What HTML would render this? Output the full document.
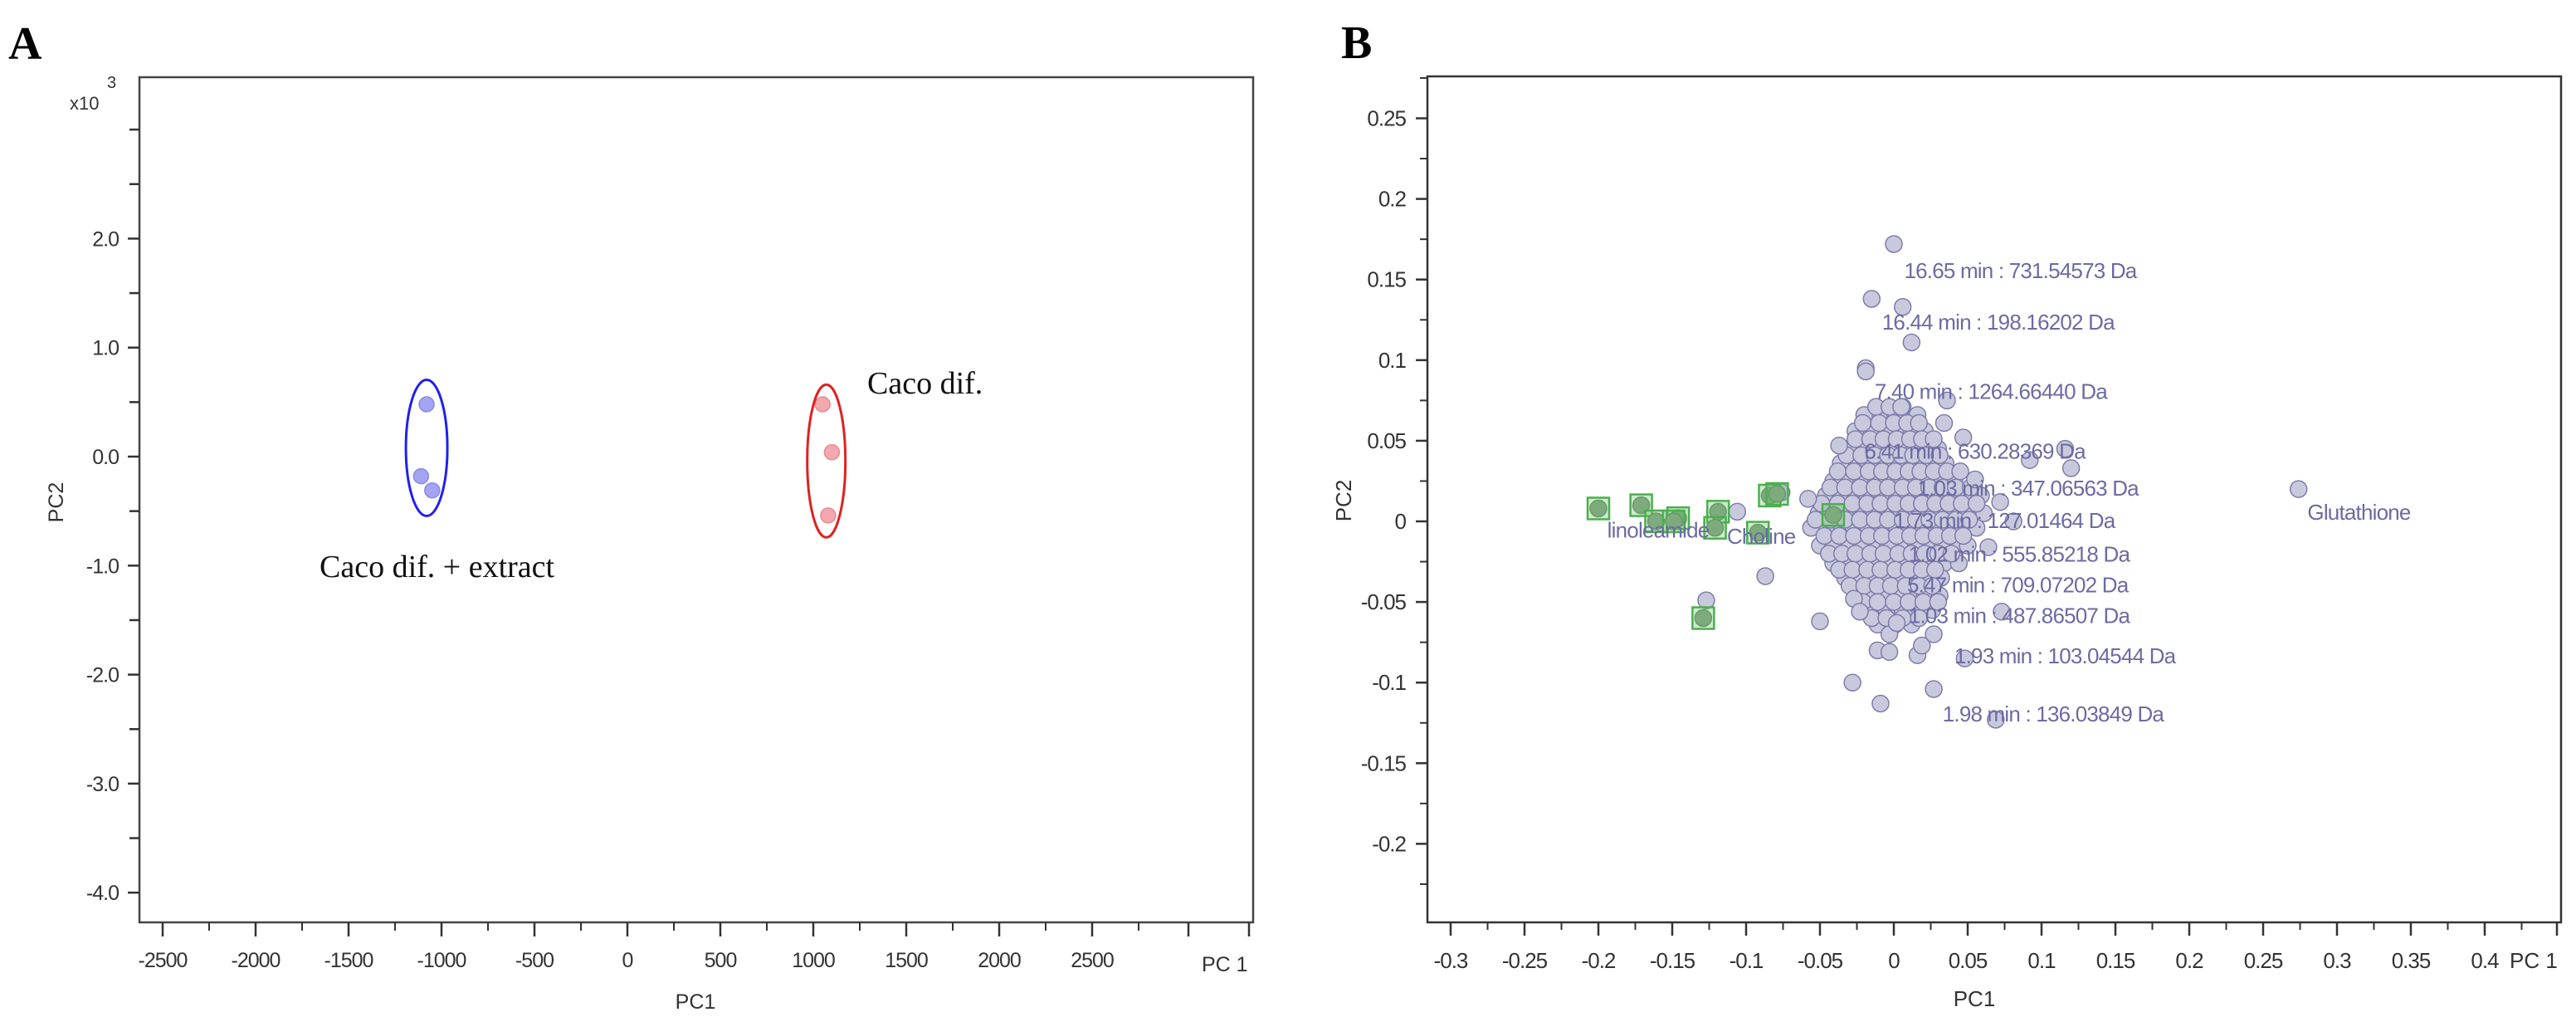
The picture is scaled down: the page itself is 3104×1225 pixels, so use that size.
<!DOCTYPE html>
<html><head><meta charset="utf-8"><style>
html,body{margin:0;padding:0;background:#fff;}
svg{display:block;}
</style></head><body>
<svg id="fig" width="3104" height="1225" xmlns="http://www.w3.org/2000/svg">
<rect width="3104" height="1225" fill="#fff"/>
<g id="pa"></g>
<g id="pb"></g>
</svg>
<script>
// ---------- Panel A data ----------
const aXTicks = [-2500,-2000,-1500,-1000,-500,0,500,1000,1500,2000,2500];
const aYTicks = [2.0,1.0,0.0,-1.0,-2.0,-3.0,-4.0];
const aYTickLabels = ["2.0","1.0","0.0","-1.0","-2.0","-3.0","-4.0"];
const aBlueX = [-1080,-1110,-1050];
const aBlueY = [0.48,-0.18,-0.31];
const aRedX = [1050,1100,1080];
const aRedY = [0.48,0.04,-0.54];

// ---------- Panel B data ----------
const bXTicks = [-0.3,-0.25,-0.2,-0.15,-0.1,-0.05,0,0.05,0.1,0.15,0.2,0.25,0.3,0.35,0.4];
const bXTickLabels = ["-0.3","-0.25","-0.2","-0.15","-0.1","-0.05","0","0.05","0.1","0.15","0.2","0.25","0.3","0.35","0.4"];
const bYTicks = [0.25,0.2,0.15,0.1,0.05,0,-0.05,-0.1,-0.15,-0.2];
const bYTickLabels = ["0.25","0.2","0.15","0.1","0.05","0","-0.05","-0.1","-0.15","-0.2"];
const bOutX = [0,-0.015,0.006,0.012,-0.019,-0.019,0.036,0.005,0.034,0.047,-0.037,0.092,0.12,0.116,0.274,0.055,0.072,0.081,0.064,-0.087,-0.05,-0.127,-0.106,-0.076,-0.058,-0.028,-0.009,0.027,0.069,0.048,-0.011,-0.003,0.016,0.019,0.027,0.073,-0.003,0.002,-0.027,-0.023];
const bOutY = [0.172,0.138,0.133,0.111,0.095,0.093,0.075,0.071,0.061,0.052,0.047,0.038,0.033,0.045,0.020,0.026,0.012,0,-0.016,-0.034,-0.062,-0.049,0.006,0.018,0.014,-0.1,-0.113,-0.104,-0.123,-0.085,-0.08,-0.081,-0.083,-0.077,-0.07,-0.056,-0.07,-0.063,-0.048,-0.056];
const bRowY = [0.066,0.056,0.045,0.036,0.025,0.016,0.005,-0.004,-0.015,-0.026,-0.035,-0.046,-0.055,-0.064];
const bRowX = [
 [-0.02,-0.009,0.001,0.008,0.016],
 [-0.026,-0.015,-0.004,0.005,0.012,0.021],
 [-0.031,-0.02,-0.011,-0.003,0.007,0.014,0.023,0.03],
 [-0.036,-0.025,-0.017,-0.008,0.001,0.009,0.018,0.026,0.035],
 [-0.041,-0.03,-0.022,-0.012,-0.004,0.006,0.013,0.023,0.031,0.041],
 [-0.046,-0.036,-0.026,-0.018,-0.008,0.002,0.01,0.02,0.028,0.037,0.048,0.059],
 [-0.051,-0.04,-0.032,-0.022,-0.013,-0.003,0.005,0.015,0.023,0.033,0.041,0.051,0.061],
 [-0.056,-0.045,-0.035,-0.027,-0.017,-0.008,0.002,0.01,0.02,0.028,0.038,0.046,0.056],
 [-0.05,-0.041,-0.03,-0.022,-0.012,-0.004,0.007,0.015,0.025,0.033,0.043,0.05],
 [-0.041,-0.03,-0.021,-0.011,-0.002,0.008,0.016,0.026,0.034,0.044],
 [-0.033,-0.022,-0.014,-0.004,0.006,0.014,0.024,0.032],
 [-0.026,-0.015,-0.007,0.003,0.013,0.021,0.031],
 [-0.016,-0.005,0.006,0.015,0.026],
 [-0.011,0.001,0.012]
];
const bRow2Y = [0.071,0.061,0.051,0.041,0.031,0.021,0.011,0.001,-0.009,-0.020,-0.030,-0.040,-0.050,-0.060];
const bRow2X = [
 [-0.012,-0.003,0.006],
 [-0.021,-0.01,0.0,0.009,0.017],
 [-0.026,-0.016,-0.007,0.002,0.011,0.019,0.027],
 [-0.032,-0.022,-0.013,-0.004,0.005,0.013,0.022,0.031],
 [-0.038,-0.027,-0.017,-0.008,0.001,0.01,0.018,0.027,0.036,0.045],
 [-0.043,-0.033,-0.023,-0.013,-0.004,0.006,0.015,0.024,0.033,0.042,0.052],
 [-0.049,-0.038,-0.028,-0.018,-0.009,0.001,0.01,0.019,0.028,0.037,0.046,0.056],
 [-0.053,-0.043,-0.033,-0.023,-0.013,-0.004,0.006,0.015,0.024,0.033,0.042,0.051],
 [-0.047,-0.037,-0.027,-0.017,-0.008,0.002,0.011,0.02,0.029,0.038,0.047],
 [-0.044,-0.035,-0.026,-0.016,-0.007,0.003,0.012,0.021,0.03,0.039],
 [-0.037,-0.028,-0.018,-0.009,0.001,0.01,0.019,0.028],
 [-0.03,-0.02,-0.011,-0.002,0.008,0.017,0.026],
 [-0.021,-0.011,0.0,0.01,0.02,0.03],
 [-0.015,-0.005,0.006,0.017]
];
const bGreenX = [-0.2,-0.171,-0.161,-0.146,-0.149,-0.119,-0.121,-0.092,-0.084,-0.079,-0.041,-0.129];
const bGreenY = [0.008,0.01,0,0.002,0,0.006,-0.004,-0.007,0.016,0.017,0.004,-0.06];
const bLabelText = ["16.65 min : 731.54573 Da","16.44 min : 198.16202 Da","7.40 min : 1264.66440 Da","6.41 min : 630.28369 Da","1.03 min : 347.06563 Da","1.73 min : 127.01464 Da","1.02 min : 555.85218 Da","5.47 min : 709.07202 Da","1.03 min : 487.86507 Da","1.93 min : 103.04544 Da","1.98 min : 136.03849 Da","Glutathione","linoleamide","Choline"];
const bLabelX = [0.007,-0.008,-0.013,-0.02,0.016,0,0.01,0.009,0.01,0.041,0.033,0.280,-0.194,-0.113];
const bLabelY = [0.151,0.119,0.076,0.039,0.016,-0.004,-0.025,-0.044,-0.063,-0.088,-0.124,0.001,-0.010,-0.014];

const NS="http://www.w3.org/2000/svg";
function mk(parent,tag,attrs,text){const e=document.createElementNS(NS,tag);for(const k in attrs)e.setAttribute(k,attrs[k]);if(text!==undefined)e.textContent=text;parent.appendChild(e);return e;}

// ===== Panel A =====
const pa=document.getElementById('pa');
const axL=168,axR=1510,axT=93,axB=1111;
const ax=v=>756+v*(560/2500);
const ay=v=>550-v*131.3;
let e;
e=mk(pa,'text',{x:10,y:71,'font-family':'Liberation Serif, serif','font-size':56,'font-weight':'bold',fill:'#000'},'A');


e=mk(pa,'rect',{x:axL,y:axT,width:axR-axL,height:axB-axT,fill:'none',stroke:'#444','stroke-width':2.5});


for(let i=0;i<aXTicks.length;i++){
  const x=ax(aXTicks[i]);
  mk(pa,'line',{x1:x,y1:axB,x2:x,y2:axB+17,stroke:'#333','stroke-width':2.5});
  const xm=ax(aXTicks[i]+250);
  mk(pa,'line',{x1:xm,y1:axB,x2:xm,y2:axB+10,stroke:'#333','stroke-width':2});
  e=mk(pa,'text',{x:x,y:1165,'text-anchor':'middle','font-family':'Liberation Sans, sans-serif','font-size':25,fill:'#333','letter-spacing':-1},String(aXTicks[i]));
  
  
}
mk(pa,'line',{x1:1432,y1:axB,x2:1432,y2:axB+17,stroke:'#333','stroke-width':2.5});
mk(pa,'line',{x1:1505,y1:axB,x2:1505,y2:axB+17,stroke:'#333','stroke-width':2.5});
e=mk(pa,'text',{x:1448,y:1170,'font-family':'Liberation Sans, sans-serif','font-size':25,fill:'#333'},'PC 1');


for(let i=0;i<aYTicks.length;i++){
  const y=ay(aYTicks[i]);
  mk(pa,'line',{x1:axL-14,y1:y,x2:axL,y2:y,stroke:'#333','stroke-width':2.5});
  e=mk(pa,'text',{x:143,y:y+9,'text-anchor':'end','font-family':'Liberation Sans, sans-serif','font-size':25,fill:'#333','letter-spacing':-1},aYTickLabels[i]);
  
  
}
[3.0,2.5,1.5,0.5,-0.5,-1.5,-2.5,-3.5].forEach(v=>{const y=ay(v);mk(pa,'line',{x1:axL-12,y1:y,x2:axL,y2:y,stroke:'#333','stroke-width':2.5});});
e=mk(pa,'text',{x:84,y:132,'font-family':'Liberation Sans, sans-serif','font-size':22,fill:'#333'},'x10');


mk(pa,'text',{x:129,y:106,'font-family':'Liberation Sans, sans-serif','font-size':20,fill:'#333'},'3');
e=mk(pa,'text',{x:838,y:1215,'text-anchor':'middle','font-family':'Liberation Sans, sans-serif','font-size':25,fill:'#333'},'PC1');


e=mk(pa,'text',{x:0,y:0,transform:'translate(76,605) rotate(-90)','text-anchor':'middle','font-family':'Liberation Sans, sans-serif','font-size':25,fill:'#333'},'PC2');


for(let i=0;i<aBlueX.length;i++){
  e=mk(pa,'circle',{cx:ax(aBlueX[i]),cy:ay(aBlueY[i]),r:9,fill:'#a4a4f2',stroke:'#8a8ae6','stroke-width':1.5});
  
  
}
for(let i=0;i<aRedX.length;i++){
  e=mk(pa,'circle',{cx:ax(aRedX[i]),cy:ay(aRedY[i]),r:9,fill:'#f2a8ae',stroke:'#e68a92','stroke-width':1.5});
  
  
}
e=mk(pa,'ellipse',{cx:ax(-1080),cy:ay(0.08),rx:25,ry:82,fill:'none',stroke:'#2020f0','stroke-width':3});


e=mk(pa,'ellipse',{cx:ax(1070),cy:ay(-0.04),rx:23,ry:92,fill:'none',stroke:'#e02020','stroke-width':3});


e=mk(pa,'text',{x:1045,y:474,'font-family':'Liberation Serif, serif','font-size':38,fill:'#111'},'Caco dif.');


e=mk(pa,'text',{x:385,y:695,'font-family':'Liberation Serif, serif','font-size':38,fill:'#111'},'Caco dif. + extract');



// ===== Panel B =====
const pb=document.getElementById('pb');
const bL=1720,bR=3086,bT=92,bB=1111;
const bx=v=>2282+v*1780;
const by=v=>628-v*1942;
e=mk(pb,'text',{x:1616,y:70,'font-family':'Liberation Serif, serif','font-size':56,'font-weight':'bold',fill:'#000'},'B');


e=mk(pb,'rect',{x:bL,y:bT,width:bR-bL,height:bB-bT,fill:'none',stroke:'#333','stroke-width':2.5});


for(let i=0;i<bXTicks.length;i++){
  const x=bx(bXTicks[i]);
  mk(pb,'line',{x1:x,y1:bB,x2:x,y2:bB+16,stroke:'#333','stroke-width':2.5});
  const xm=bx(bXTicks[i]+0.025);
  mk(pb,'line',{x1:xm,y1:bB,x2:xm,y2:bB+9,stroke:'#333','stroke-width':2});
  e=mk(pb,'text',{x:x,y:1166,'text-anchor':'middle','font-family':'Liberation Sans, sans-serif','font-size':26,fill:'#333','letter-spacing':-1},bXTickLabels[i]);
  
  
}
mk(pb,'line',{x1:3081,y1:bB,x2:3081,y2:bB+16,stroke:'#333','stroke-width':2.5});
e=mk(pb,'text',{x:3024,y:1166,'font-family':'Liberation Sans, sans-serif','font-size':26,fill:'#333'},'PC 1');


for(let i=0;i<bYTicks.length;i++){
  const y=by(bYTicks[i]);
  mk(pb,'line',{x1:bL-14,y1:y,x2:bL,y2:y,stroke:'#333','stroke-width':2.5});
  const ym=by(bYTicks[i]+0.025);
  mk(pb,'line',{x1:bL-9,y1:ym,x2:bL,y2:ym,stroke:'#333','stroke-width':2});
  e=mk(pb,'text',{x:1694,y:y+9,'text-anchor':'end','font-family':'Liberation Sans, sans-serif','font-size':26,fill:'#333','letter-spacing':-1},bYTickLabels[i]);
  
  
}
mk(pb,'line',{x1:bL-9,y1:by(-0.225),x2:bL,y2:by(-0.225),stroke:'#333','stroke-width':2});
e=mk(pb,'text',{x:2379,y:1212,'text-anchor':'middle','font-family':'Liberation Sans, sans-serif','font-size':26,fill:'#333'},'PC1');


e=mk(pb,'text',{x:0,y:0,transform:'translate(1628,603) rotate(-90)','text-anchor':'middle','font-family':'Liberation Sans, sans-serif','font-size':26,fill:'#333'},'PC2');



const ptFill='#c9c9dd',ptStroke='#7d7dab';
function clusterRows(ys,xs){
  for(let r=0;r<ys.length;r++){
    for(let j=0;j<xs[r].length;j++){
      const el=mk(pb,'circle',{cx:bx(xs[r][j]),cy:by(ys[r]),r:10,fill:ptFill,stroke:ptStroke,'stroke-width':1.5});
      
      
    }
  }
}
clusterRows(bRowY,bRowX);
clusterRows(bRow2Y,bRow2X);
for(let i=0;i<bOutX.length;i++){
  e=mk(pb,'circle',{cx:bx(bOutX[i]),cy:by(bOutY[i]),r:10,fill:ptFill,stroke:ptStroke,'stroke-width':1.5});
  
  
}
for(let i=0;i<bGreenX.length;i++){
  const cx=bx(bGreenX[i]),cy=by(bGreenY[i]);
  e=mk(pb,'circle',{cx:cx,cy:cy,r:10,fill:'#8fa48f',stroke:'#6f8a6f','stroke-width':1.5});
  
  
  e=mk(pb,'rect',{x:cx-13,y:cy-13,width:26,height:26,fill:'rgba(90,190,90,0.3)',stroke:'#4caf50','stroke-width':2.5});
  
  
}
for(let i=0;i<bLabelText.length;i++){
  e=mk(pb,'text',{x:bx(bLabelX[i]),y:by(bLabelY[i]),'font-family':'Liberation Sans, sans-serif','font-size':26,fill:'#6b6ba3','letter-spacing':-0.8},bLabelText[i]);
  
  
}
</script>
</body></html>
